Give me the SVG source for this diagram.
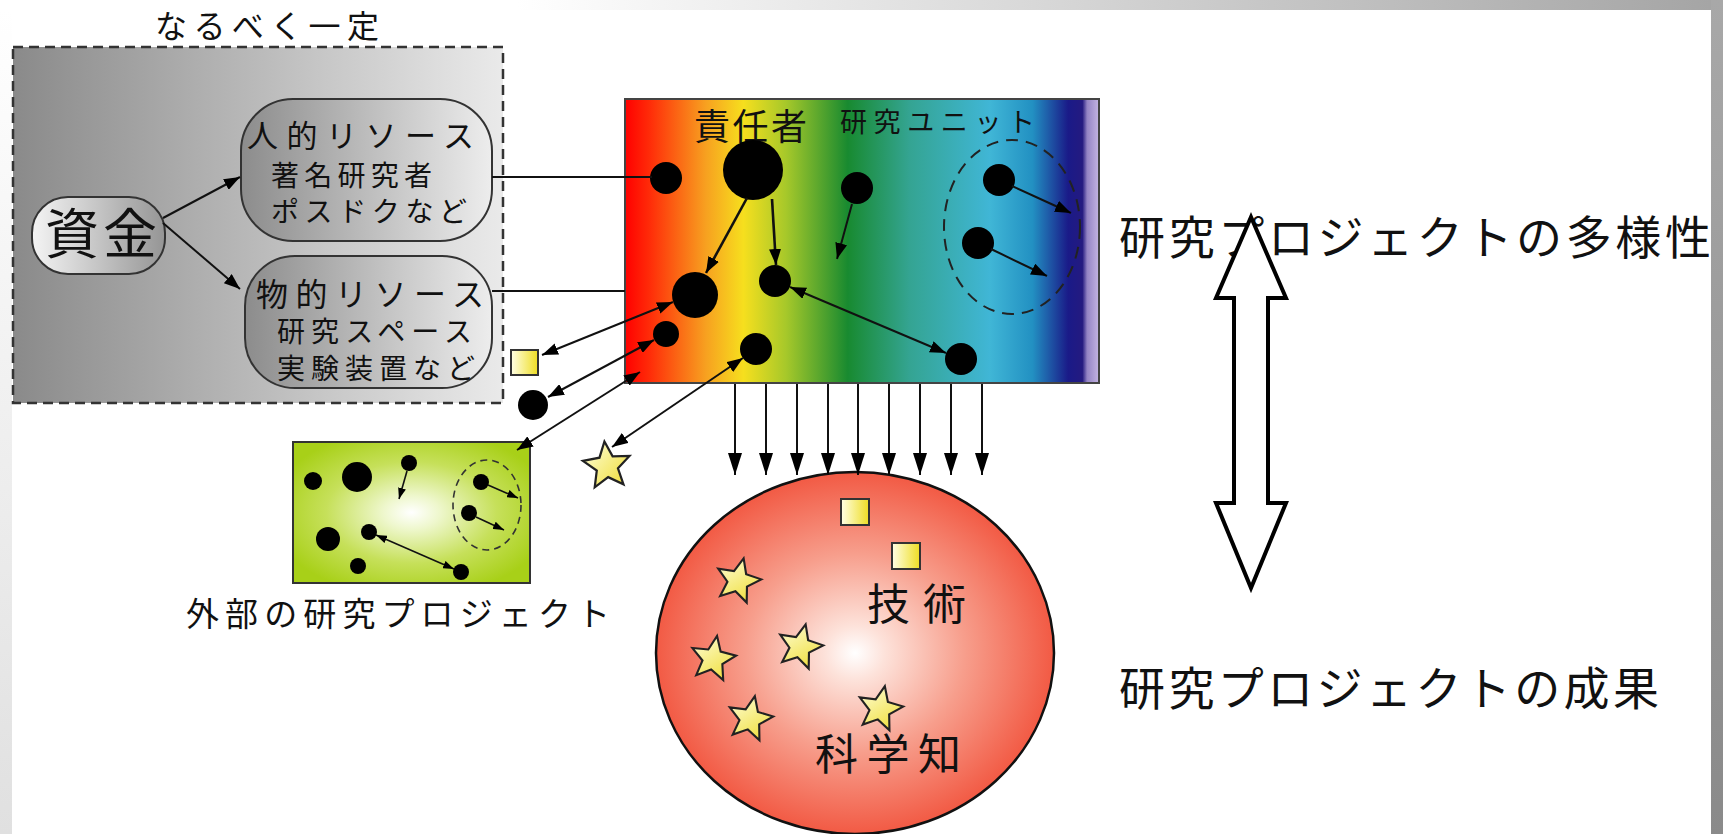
<svg xmlns="http://www.w3.org/2000/svg" xmlns:xlink="http://www.w3.org/1999/xlink" width="1723" height="834" viewBox="0 0 1723 834">
<defs>
<style>
text{font-family:"Noto Sans CJK JP","Noto Sans CJK SC",sans-serif;fill:#111;}
.ln{stroke:#111;stroke-width:2;fill:none;}
.lnb{stroke:#111;stroke-width:2.6;fill:none;}
.dot{fill:#000;}
.dash{fill:none;stroke:#222;stroke-width:2;stroke-dasharray:12 8;}
.pill{stroke:#333;stroke-width:2;}
.star{fill:url(#gStar);stroke:#222;stroke-width:2;stroke-linejoin:miter;}
.sq{fill:url(#gSq);stroke:#333;stroke-width:2;}
</style>
<linearGradient id="gTop" x1="0" y1="0" x2="1" y2="0"><stop offset="0.3" stop-color="#ffffff"/><stop offset="1" stop-color="#a4a4a4"/></linearGradient>
<linearGradient id="gRight" x1="0" y1="0" x2="0" y2="1"><stop offset="0" stop-color="#a8a8a8"/><stop offset="1" stop-color="#8a8a8a"/></linearGradient>
<linearGradient id="gLeft" x1="0" y1="0" x2="0" y2="1"><stop offset="0" stop-color="#ffffff"/><stop offset="1" stop-color="#e0e0e0"/></linearGradient>
<linearGradient id="gBox" x1="0" y1="0" x2="1" y2="0"><stop offset="0" stop-color="#8a8a8a"/><stop offset="1" stop-color="#eaeaea"/></linearGradient>
<linearGradient id="gPill" x1="0" y1="0" x2="1" y2="0"><stop offset="0" stop-color="#8c8c8c"/><stop offset="1" stop-color="#ededed"/></linearGradient>
<linearGradient id="gFund" x1="0" y1="0" x2="1" y2="0"><stop offset="0" stop-color="#f4f4f4"/><stop offset="1" stop-color="#959595"/></linearGradient>
<linearGradient id="gRain" x1="0" y1="0" x2="1" y2="0">
<stop offset="0" stop-color="#ff0000"/>
<stop offset="0.05" stop-color="#ff2a08"/>
<stop offset="0.17" stop-color="#f7a020"/>
<stop offset="0.25" stop-color="#f6df1e"/>
<stop offset="0.34" stop-color="#a6c82a"/>
<stop offset="0.47" stop-color="#188a30"/>
<stop offset="0.6" stop-color="#34a492"/>
<stop offset="0.77" stop-color="#40b6d6"/>
<stop offset="0.86" stop-color="#2290c2"/>
<stop offset="0.935" stop-color="#1a1a88"/>
<stop offset="0.965" stop-color="#241a80"/>
<stop offset="0.975" stop-color="#9484c4"/>
<stop offset="1" stop-color="#c4b4e2"/>
</linearGradient>
<radialGradient id="gSphere" cx="0.5" cy="0.5" r="0.5"><stop offset="0" stop-color="#ffffff"/><stop offset="0.15" stop-color="#fde2da"/><stop offset="0.55" stop-color="#f79e8c"/><stop offset="1" stop-color="#f25a44"/></radialGradient>
<radialGradient id="gGreen" cx="0.5" cy="0.5" r="0.6"><stop offset="0" stop-color="#ffffff"/><stop offset="0.2" stop-color="#eef7cc"/><stop offset="0.6" stop-color="#c6e05a"/><stop offset="1" stop-color="#a8d018"/></radialGradient>
<linearGradient id="gSq" x1="0" y1="0" x2="1" y2="0"><stop offset="0" stop-color="#ffffe6"/><stop offset="1" stop-color="#eedd22"/></linearGradient>
<linearGradient id="gStar" x1="0" y1="0" x2="1" y2="1"><stop offset="0" stop-color="#ffffe0"/><stop offset="1" stop-color="#eedc30"/></linearGradient>
<path id="star" d="M0,-22 L5.9,-8.1 L20.9,-6.8 L9.5,3.1 L12.9,17.8 L0,10 L-12.9,17.8 L-9.5,3.1 L-20.9,-6.8 L-5.9,-8.1 Z"/>
<marker id="ah" markerUnits="userSpaceOnUse" markerWidth="16" markerHeight="12" refX="16" refY="6" orient="auto-start-reverse"><path d="M0,0 L16,6 L0,12 Z" fill="#000"/></marker>
<marker id="ahs" markerUnits="userSpaceOnUse" markerWidth="11" markerHeight="8" refX="11" refY="4" orient="auto-start-reverse"><path d="M0,0 L11,4 L0,8 Z" fill="#000"/></marker>
<marker id="ahd" markerUnits="userSpaceOnUse" markerWidth="22" markerHeight="14" refX="22" refY="7" orient="auto"><path d="M0,0 L22,7 L0,14 Z" fill="#000"/></marker>
</defs>

<!-- background frame -->
<rect x="0" y="0" width="1723" height="834" fill="#ffffff"/>
<rect x="0" y="0" width="1723" height="10" fill="url(#gTop)"/>
<rect x="0" y="10" width="12" height="824" fill="url(#gLeft)"/>
<rect x="1711" y="0" width="12" height="834" fill="url(#gRight)"/>

<!-- funding box -->
<g id="funding-box">
<rect x="13" y="47" width="490" height="356" fill="url(#gBox)" stroke="#333" stroke-width="2.5" stroke-dasharray="10 6"/>
<text x="155" y="38" font-size="32" textLength="224" lengthAdjust="spacing">なるべく一定</text>
</g>
<g id="fund">
<rect x="32" y="197" width="133" height="77" rx="36" fill="url(#gFund)" class="pill"/>
<text x="45" y="254" font-size="54" textLength="112" lengthAdjust="spacing">資金</text>
</g>
<g id="human">
<rect x="241" y="99" width="251" height="142" rx="52" fill="url(#gPill)" class="pill"/>
<text x="247" y="147" font-size="31" textLength="227" lengthAdjust="spacing">人的リソース</text>
<text x="271" y="186" font-size="28" textLength="161" lengthAdjust="spacing">著名研究者</text>
<text x="271" y="222" font-size="28" textLength="196" lengthAdjust="spacing">ポスドクなど</text>
</g>
<g id="physical">
<rect x="245" y="256" width="247" height="132" rx="50" fill="url(#gPill)" class="pill"/>
<text x="256" y="306" font-size="32" textLength="228" lengthAdjust="spacing">物的リソース</text>
<text x="277" y="342" font-size="28" textLength="195" lengthAdjust="spacing">研究スペース</text>
<text x="277" y="379" font-size="28" textLength="198" lengthAdjust="spacing">実験装置など</text>
</g>

<!-- research project (rainbow) -->
<g id="project">
<rect x="625" y="99" width="474" height="284" fill="url(#gRain)" stroke="#444" stroke-width="2"/>
<text x="694" y="140" font-size="36" textLength="113" lengthAdjust="spacing">責任者</text>
<text x="840" y="132" font-size="27" textLength="195" lengthAdjust="spacing">研究ユニット</text>
<ellipse cx="1012" cy="227" rx="68" ry="87" class="dash"/>
</g>
<g id="project-members">
<circle id="m1" cx="666" cy="178" r="16" class="dot"/>
<circle id="leader" cx="753" cy="170" r="30" class="dot"/>
<circle id="m3" cx="857" cy="188" r="16" class="dot"/>
<circle id="m4" cx="999" cy="180" r="16" class="dot"/>
<circle id="m5" cx="978" cy="243" r="16" class="dot"/>
<circle id="m6" cx="695" cy="295" r="23" class="dot"/>
<circle id="m7" cx="775" cy="281" r="16" class="dot"/>
<circle id="m8" cx="666" cy="334" r="13" class="dot"/>
<circle id="m9" cx="756" cy="349" r="16" class="dot"/>
<circle id="m10" cx="961" cy="359" r="16" class="dot"/>
</g>

<!-- external items -->
<g id="ext-square"><rect x="511" y="350" width="27" height="25" class="sq"/></g>
<g id="ext-dot"><circle cx="533" cy="405" r="15" class="dot"/></g>
<g id="ext-star"><use xlink:href="#star" href="#star" class="star" transform="translate(607,466) rotate(-6) scale(1.12)"/></g>

<!-- external project -->
<g id="external-project">
<rect x="293" y="442" width="237" height="141" fill="url(#gGreen)" stroke="#333" stroke-width="2"/>
<ellipse cx="487" cy="505" rx="34" ry="45" fill="none" stroke="#333" stroke-width="1.6" stroke-dasharray="7 5"/>
<circle cx="313" cy="481" r="9" class="dot"/>
<circle cx="357" cy="477" r="15" class="dot"/>
<circle cx="409" cy="463" r="8" class="dot"/>
<circle cx="481" cy="482" r="8" class="dot"/>
<circle cx="469" cy="513" r="8" class="dot"/>
<circle cx="328" cy="539" r="12" class="dot"/>
<circle cx="369" cy="532" r="8" class="dot"/>
<circle cx="358" cy="566" r="8" class="dot"/>
<circle cx="461" cy="572" r="8" class="dot"/>
<text x="186" y="626" font-size="33" textLength="424" lengthAdjust="spacing">外部の研究プロジェクト</text>
</g>

<!-- outcomes sphere -->
<g id="outcomes">
<ellipse cx="855" cy="653" rx="199" ry="181" fill="url(#gSphere)" stroke="#111" stroke-width="2.5"/>
<rect x="841" y="499" width="28" height="26" class="sq"/>
<rect x="892" y="543" width="28" height="26" class="sq"/>
<use xlink:href="#star" href="#star" class="star" transform="translate(738,581) rotate(14) scale(1.06)"/>
<use xlink:href="#star" href="#star" class="star" transform="translate(713,659) rotate(10) scale(1.06)"/>
<use xlink:href="#star" href="#star" class="star" transform="translate(800,647) rotate(14) scale(1.06)"/>
<use xlink:href="#star" href="#star" class="star" transform="translate(750,719) rotate(12) scale(1.06)"/>
<use xlink:href="#star" href="#star" class="star" transform="translate(880,709) rotate(12) scale(1.06)"/>
<text x="867" y="620" font-size="43" textLength="99" lengthAdjust="spacing">技術</text>
<text x="815" y="770" font-size="43" textLength="146" lengthAdjust="spacing">科学知</text>
</g>

<!-- right labels -->
<g id="label-diversity"><text x="1119" y="254" font-size="46" textLength="592" lengthAdjust="spacing">研究プロジェクトの多様性</text></g>
<g id="label-results"><text x="1119" y="705" font-size="46" textLength="540" lengthAdjust="spacing">研究プロジェクトの成果</text></g>
<g id="double-arrow">
<polygon points="1251,217 1286,298 1268,298 1268,503 1286,503 1251,588 1216,503 1234,503 1234,298 1216,298" fill="#ffffff" stroke="#000" stroke-width="4" stroke-linejoin="miter"/>
</g>

<!-- connectors -->
<g id="connectors">
<line x1="163" y1="218" x2="240" y2="177" class="ln" marker-end="url(#ah)"/>
<line x1="163" y1="223" x2="240" y2="289" class="ln" marker-end="url(#ah)"/>
<line x1="492" y1="177" x2="652" y2="177" class="ln"/>
<line x1="492" y1="291" x2="625" y2="291" class="ln"/>
<line x1="747" y1="198" x2="706" y2="273" class="lnb" marker-end="url(#ah)"/>
<line x1="772" y1="199" x2="776" y2="265" class="lnb" marker-end="url(#ah)"/>
<line x1="852" y1="204" x2="837" y2="259" class="ln" marker-end="url(#ah)"/>
<line x1="1012" y1="186" x2="1071" y2="213" class="ln" marker-end="url(#ah)"/>
<line x1="991" y1="249" x2="1047" y2="276" class="ln" marker-end="url(#ah)"/>
<line x1="790" y1="287" x2="946" y2="353" class="ln" marker-start="url(#ah)" marker-end="url(#ah)"/>
<line x1="542" y1="355" x2="673" y2="302" class="ln" marker-start="url(#ah)" marker-end="url(#ah)"/>
<line x1="548" y1="397" x2="654" y2="340" class="ln" marker-start="url(#ah)" marker-end="url(#ah)"/>
<line x1="517" y1="450" x2="640" y2="372" class="ln" marker-start="url(#ah)" marker-end="url(#ah)"/>
<line x1="612" y1="447" x2="743" y2="358" class="ln" marker-start="url(#ah)" marker-end="url(#ah)"/>
<line x1="407" y1="471" x2="399" y2="499" stroke="#111" stroke-width="1.6" marker-end="url(#ahs)"/>
<line x1="488" y1="485" x2="518" y2="498" stroke="#111" stroke-width="1.6" marker-end="url(#ahs)"/>
<line x1="476" y1="517" x2="504" y2="530" stroke="#111" stroke-width="1.6" marker-end="url(#ahs)"/>
<line x1="376" y1="535" x2="454" y2="569" stroke="#111" stroke-width="1.6" marker-start="url(#ahs)" marker-end="url(#ahs)"/>
<line x1="735" y1="384" x2="735" y2="475" class="ln" marker-end="url(#ahd)"/>
<line x1="766" y1="384" x2="766" y2="475" class="ln" marker-end="url(#ahd)"/>
<line x1="797" y1="384" x2="797" y2="475" class="ln" marker-end="url(#ahd)"/>
<line x1="828" y1="384" x2="828" y2="475" class="ln" marker-end="url(#ahd)"/>
<line x1="858" y1="384" x2="858" y2="475" class="ln" marker-end="url(#ahd)"/>
<line x1="889" y1="384" x2="889" y2="475" class="ln" marker-end="url(#ahd)"/>
<line x1="920" y1="384" x2="920" y2="475" class="ln" marker-end="url(#ahd)"/>
<line x1="951" y1="384" x2="951" y2="475" class="ln" marker-end="url(#ahd)"/>
<line x1="982" y1="384" x2="982" y2="475" class="ln" marker-end="url(#ahd)"/>
</g>
</svg>
